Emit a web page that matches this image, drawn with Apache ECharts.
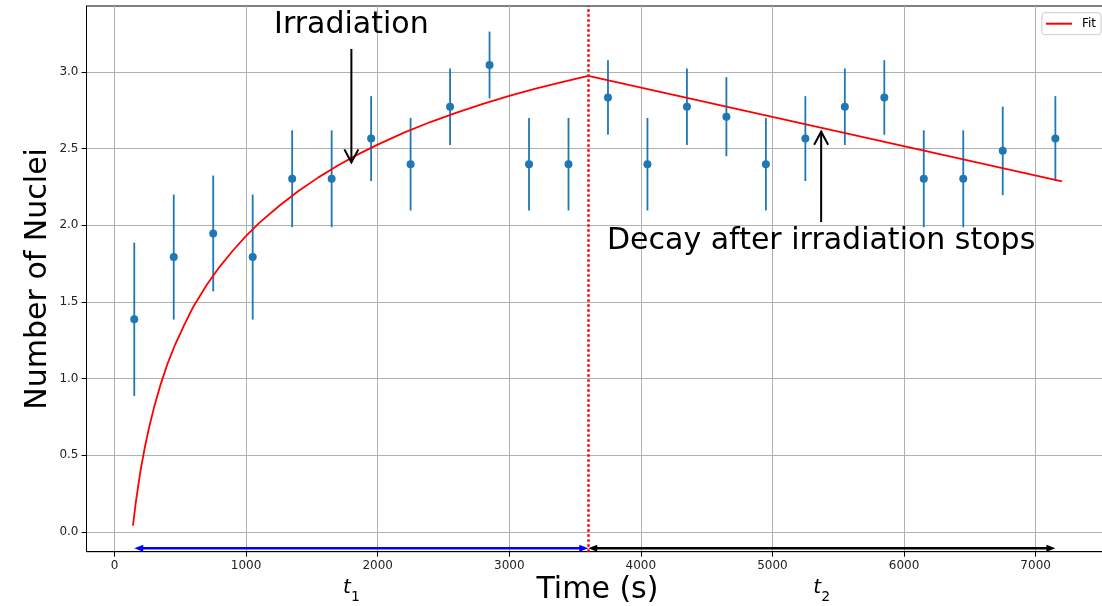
<!DOCTYPE html>
<html>
<head>
<meta charset="utf-8">
<script src="https://cdn.jsdelivr.net/npm/echarts@6/dist/echarts.min.js"></script>
<style>
  html, body { margin: 0; padding: 0; background: #fff; }
  #chart { width: 1102px; height: 606px; }
</style>
</head>
<body>
<div id="chart"></div>
<script>
// Measured counts, plotted as ln(N) with 1/sqrt(N) error bars
const times = [150, 450, 750, 1050, 1350, 1650, 1950, 2250, 2550, 2850, 3150, 3450,
               3750, 4050, 4350, 4650, 4950, 5250, 5550, 5850, 6150, 6450, 6750, 7150];
const lnCounts = [1.386, 1.792, 1.946, 1.792, 2.303, 2.303, 2.565, 2.398, 2.773, 3.045, 2.398, 2.398,
                  2.833, 2.398, 2.773, 2.708, 2.398, 2.565, 2.773, 2.833, 2.303, 2.303, 2.485, 2.565];
const lnErrors = [0.500, 0.408, 0.378, 0.408, 0.316, 0.316, 0.277, 0.302, 0.250, 0.218, 0.302, 0.302,
                  0.243, 0.302, 0.250, 0.258, 0.302, 0.277, 0.250, 0.243, 0.316, 0.316, 0.289, 0.277];

// Fit: build-up during irradiation, then decay once it stops
const riseT = [140, 160, 180, 200, 230, 260, 300, 350, 400, 460, 530, 600, 700, 800, 900, 1000,
               1100, 1250, 1400, 1550, 1700, 1850, 2000, 2200, 2400, 2600, 2800, 3000, 3200, 3400, 3600];
const riseN = [0.04, 0.18, 0.30, 0.41, 0.55, 0.67, 0.81, 0.96, 1.09, 1.22, 1.35, 1.47, 1.61, 1.73, 1.835, 1.93,
               2.015, 2.125, 2.225, 2.312, 2.391, 2.462, 2.526, 2.604, 2.673, 2.735, 2.792, 2.843, 2.891, 2.934, 2.974];
const decayT = [3600, 7200];
const decayN = [2.974, 2.286];

// Moment the irradiation is switched off
const stopTime = 3600;

// Axis ticks
const xTicks = [0, 1000, 2000, 3000, 4000, 5000, 6000, 7000];
const yTicks = [0, 0.5, 1.0, 1.5, 2.0, 2.5, 3.0];

// Interval arrows t1 / t2 along the bottom
const spanStart = [150, 3600];
const spanEnd = [3600, 7150];
const spanLevel = -0.108;
const spanMid = [1800, 5375];
const spanSub = ['1', '2'];
const spanLabelLevel = -0.367;

// Text annotations with vertical arrows
const noteText = ['Irradiation', 'Decay after irradiation stops'];
const noteX = [1800, 5370];
const noteTextY = [3.303, 1.895];
const noteFromY = [3.15, 2.02];
const noteToY = [2.41, 2.61];

const FONT = 'DejaVu Sans';
const BLUE = '#1f77b4';
const spanColors = ['#0000ff', '#000000'];

const chart = echarts.init(document.getElementById('chart'), null, { renderer: 'canvas' });

function arrowHead(tip, dir, len, half) {
  const px = -dir[1], py = dir[0];
  const bx = tip[0] - dir[0] * len, by = tip[1] - dir[1] * len;
  return [[bx + px * half, by + py * half], tip, [bx - px * half, by - py * half]];
}

const option = {
  animation: false,
  textStyle: { fontFamily: FONT },
  grid: {
    left: 86.5, top: 6, width: 1021.9, height: 545.7,
    containLabel: false, outerBoundsMode: 'none',
    show: true, borderColor: '#000', borderWidth: 1, backgroundColor: 'transparent'
  },
  legend: {
    data: ['Fit'],
    right: 1, top: 12.7,
    icon: 'rect', itemWidth: 26, itemHeight: 2, itemGap: 5,
    padding: [5, 5, 5, 4],
    backgroundColor: 'rgba(255,255,255,0.8)',
    borderColor: '#cccccc', borderWidth: 1, borderRadius: 3,
    textStyle: { fontSize: 12, color: '#000', fontFamily: FONT, padding: [0, 0, 0, 5] }
  },
  xAxis: {
    type: 'value', min: -213, max: 7553,
    name: 'Time (s)', nameLocation: 'middle', nameGap: 24, nameMoveOverlap: false,
    nameTextStyle: { fontSize: 30, color: '#000', fontFamily: FONT },
    axisLine: { show: true, onZero: false, lineStyle: { color: '#000', width: 1 } },
    axisTick: { show: true, length: 5, customValues: xTicks, lineStyle: { color: '#000', width: 1 } },
    axisLabel: { customValues: xTicks, fontSize: 12, color: '#222', margin: 8, fontFamily: FONT,
                 formatter: v => String(v) },
    splitLine: { show: true, lineStyle: { color: '#b0b0b0', width: 1 } }
  },
  yAxis: {
    type: 'value', min: -0.13, max: 3.43,
    name: 'Number of Nuclei', nameLocation: 'middle', nameGap: 33, nameRotate: 90, nameMoveOverlap: false,
    nameTextStyle: { fontSize: 30, color: '#000', fontFamily: FONT },
    axisLine: { show: true, onZero: false, lineStyle: { color: '#000', width: 1 } },
    axisTick: { show: true, length: 5, customValues: yTicks, lineStyle: { color: '#000', width: 1 } },
    axisLabel: { customValues: yTicks, fontSize: 12, color: '#222', margin: 8, fontFamily: FONT,
                 formatter: v => Number(v).toFixed(1) },
    splitLine: { show: true, lineStyle: { color: '#b0b0b0', width: 1 } }
  },
  series: [
    {
      // vertical error bars
      type: 'custom', name: 'errors', silent: true, z: 2,
      data: times.map((t, i) => [t, lnCounts[i], lnErrors[i]]),
      encode: { x: 0, y: 1 },
      renderItem(params, api) {
        const x = api.value(0), y = api.value(1), e = api.value(2);
        const a = api.coord([x, y - e]), b = api.coord([x, y + e]);
        return { type: 'line', shape: { x1: a[0], y1: a[1], x2: b[0], y2: b[1] },
                 style: { stroke: BLUE, lineWidth: 1.8 } };
      }
    },
    {
      type: 'scatter', name: 'data', silent: true, z: 3,
      data: times.map((t, i) => [t, lnCounts[i]]),
      symbol: 'circle', symbolSize: 8,
      itemStyle: { color: BLUE, opacity: 1 }
    },
    {
      type: 'line', name: 'Fit', z: 4, silent: true,
      data: riseT.map((t, i) => [t, riseN[i]]),
      smooth: false, symbol: 'none', showSymbol: false,
      color: '#ff0000',
      lineStyle: { color: '#ff0000', width: 1.8 },
      markLine: {
        silent: true, symbol: ['none', 'none'], label: { show: false },
        lineStyle: { color: '#ff0000', width: 2.5, type: [2.5, 2.5], cap: 'butt' },
        emphasis: { disabled: true },
        data: [{ xAxis: stopTime }]
      }
    },
    {
      type: 'line', name: 'Fit', z: 4, silent: true,
      data: decayT.map((t, i) => [t, decayN[i]]),
      symbol: 'none', showSymbol: false,
      color: '#ff0000',
      lineStyle: { color: '#ff0000', width: 1.8 }
    },
    {
      // text annotations with arrows
      type: 'custom', name: 'notes', silent: true, clip: false, z: 6,
      data: noteText.map((s, i) => [noteX[i], noteTextY[i], noteFromY[i], noteToY[i], i]),
      encode: { x: 0, y: 1 },
      renderItem(params, api) {
        const i = api.value(4);
        const x = api.value(0);
        const t = api.coord([x, api.value(1)]);
        const from = api.coord([x, api.value(2)]);
        const to = api.coord([x, api.value(3)]);
        const len = Math.hypot(to[0] - from[0], to[1] - from[1]);
        const dir = [(to[0] - from[0]) / len, (to[1] - from[1]) / len];
        return {
          type: 'group',
          children: [
            { type: 'text', style: { text: noteText[i], x: t[0], y: t[1], align: 'center', verticalAlign: 'middle',
                                     fontSize: 30, fontFamily: FONT, fill: '#000' } },
            { type: 'line', shape: { x1: from[0], y1: from[1], x2: to[0], y2: to[1] },
              style: { stroke: '#000', lineWidth: 2 } },
            { type: 'polyline', shape: { points: arrowHead(to, dir, 13, 7) },
              style: { stroke: '#000', lineWidth: 2, fill: null } }
          ]
        };
      }
    },
    {
      // t1 / t2 interval arrows and labels
      type: 'custom', name: 'spans', silent: true, clip: false, z: 6,
      data: spanStart.map((s, i) => [s, spanLevel, spanEnd[i], spanMid[i], spanLabelLevel, i]),
      encode: { x: 0, y: 1 },
      renderItem(params, api) {
        const i = api.value(5);
        const a = api.coord([api.value(0), api.value(1)]);
        const b = api.coord([api.value(2), api.value(1)]);
        const m = api.coord([api.value(3), api.value(4)]);
        const len = Math.hypot(b[0] - a[0], b[1] - a[1]);
        const d = [(b[0] - a[0]) / len, (b[1] - a[1]) / len];
        const c = spanColors[i];
        return {
          type: 'group',
          children: [
            { type: 'line', shape: { x1: a[0] + d[0] * 4, y1: a[1], x2: b[0] - d[0] * 4, y2: b[1] },
              style: { stroke: c, lineWidth: 2.5 } },
            { type: 'polygon', shape: { points: arrowHead(a, [-d[0], -d[1]], 9, 3.5) }, style: { fill: c } },
            { type: 'polygon', shape: { points: arrowHead(b, d, 9, 3.5) }, style: { fill: c } },
            { type: 'text', style: { text: 't', x: m[0] - 8.5, y: m[1], align: 'left', verticalAlign: 'middle',
                                     fontSize: 20, fontStyle: 'italic', fontFamily: FONT, fill: '#000' } },
            { type: 'text', style: { text: spanSub[i], x: m[0] - 0.5, y: m[1] + 9, align: 'left', verticalAlign: 'middle',
                                     fontSize: 14, fontFamily: FONT, fill: '#000' } }
          ]
        };
      }
    }
  ]
};

chart.setOption(option);
</script>
</body>
</html>
